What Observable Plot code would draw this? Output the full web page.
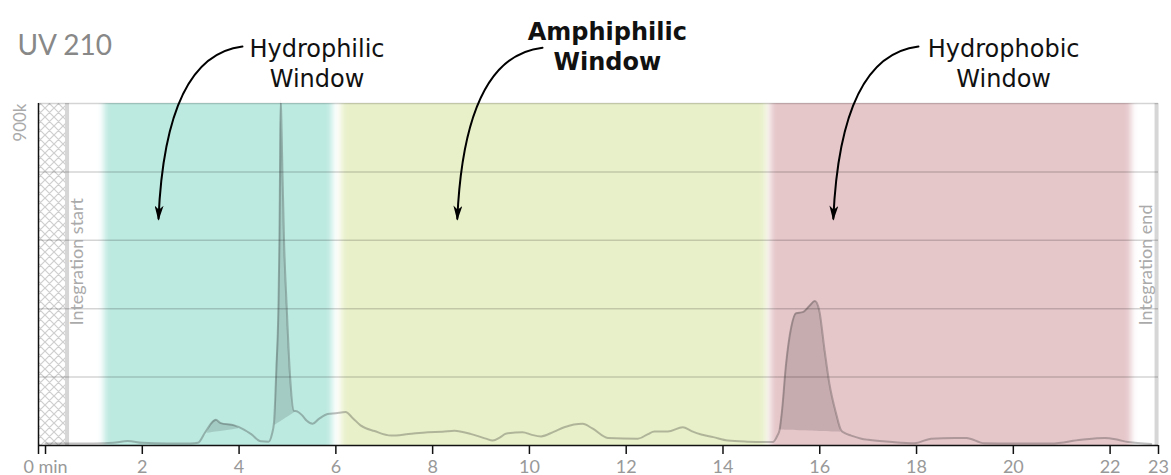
<!DOCTYPE html>
<html><head><meta charset="utf-8">
<script src="https://cdn.jsdelivr.net/npm/d3@7"></script>
<script src="https://cdn.jsdelivr.net/npm/@observablehq/plot@0.6"></script>
<style>body{margin:0;background:#fff;} svg{display:block;}</style>
</head><body><div id="chart"></div>
<script>
// ---- data ----
const times  = [0.0,0.5,1.0,1.4,1.7,2.0,2.5,3.0,3.15,3.3,3.45,3.52,3.62,3.9,4.1,4.25,4.45,4.61,4.68,4.72,4.77,4.813,4.834,4.846,4.86,4.875,4.896,4.929,4.985,5.05,5.13,5.2,5.3,5.4,5.52,5.65,5.83,6.0,6.2,6.35,6.51,6.8,7.14,7.5,7.9,8.2,8.45,8.8,9.1,9.24,9.4,9.51,9.86,10.05,10.24,10.5,10.72,11.1,11.3,11.62,12.24,12.45,12.58,12.86,13.17,13.35,13.55,13.8,14.1,14.5,14.93,15.03,15.12,15.17,15.22,15.3,15.41,15.51,15.65,15.79,15.9,15.99,16.1,16.2,16.34,16.44,16.51,16.65,16.86,17.0,17.5,17.96,18.3,18.79,19.03,19.4,20.0,20.78,21.4,21.89,22.16,22.37,22.85];
const signal = [5,5,5,7,12,7,5,5,7,35,62,68,59,53,42,30,11,10,30,58,200,363,540,720,910,850,720,540,363,190,92,90,80,65,57,70,83,85,88,72,53,38,26,30,35,36,39,30,18,13,22,31,35,28,24,36,48,57,45,20,18,30,37,37,48,38,29,22,13,10,9,9,25,41,92,210,311,348,351,368,380,355,250,162,83,40,33,26,18,15,9,6,18,20,20,6,5,5,15,20,15,9,4];

const tickValues = [0,2,4,6,8,10,12,14,16,18,20,22,23];
const tickLabels = ["0 min","2","4","6","8","10","12","14","16","18","20","22","23"];
const gridValues = [180,360,540,720,900];

const windowStart  = [1.22, 6.12, 14.99];
const windowEnd    = [5.93, 14.9, 22.44];
const windowColors = ["#bce9e0", "#e8f0c9", "#e5c6c9"];

const integrationStart = 0.445;
const integrationEnd = 22.96;

const peakStart = [3.34, 4.74, 15.17];
const peakStartBase = [32, 53, 41];
const peakEnd = [4.0, 5.17, 16.44];
const peakEndBase = [44, 88, 35];

const annotLabels = ["Hydrophilic\nWindow", "Amphiphilic\nWindow", "Hydrophobic\nWindow"];
const annotX = [5.61, 11.61, 19.80];
const annotY = [1007, 1054, 1007];
const annotBold = [false, true, false];

const arrowX1 = [4.07, 10.27, 18.04], arrowY1 = [1050, 1047, 1050];
const arrowCX = [2.48, 8.66, 16.43],  arrowCY = [1026, 1024, 1026];
const arrowX2 = [2.335, 8.51, 16.28], arrowY2 = [597, 597, 597];

const xMin = -0.145, xMax = 23;

// ---- derived tables ----
const trace = times.map((t, i) => ({t, v: signal[i]}));
const windows = windowStart.map((s, i) => ({x1: s, x2: windowEnd[i], fill: windowColors[i]}));
const areas = [];
peakStart.forEach((a, k) => {
  const b = peakEnd[k];
  const base = t => peakStartBase[k] + (peakEndBase[k] - peakStartBase[k]) * (t - a) / (b - a);
  areas.push({peak: k, t: a, base: base(a), v: peakStartBase[k]});
  trace.filter(d => d.t > a && d.t < b).forEach(d => areas.push({peak: k, t: d.t, base: base(d.t), v: Math.max(d.v, base(d.t))}));
  areas.push({peak: k, t: b, base: base(b), v: peakEndBase[k]});
});
const annots = annotLabels.map((l, i) => ({label: l, x: annotX[i], y: annotY[i], bold: annotBold[i]}));
const arrows = [];
arrowX1.forEach((x, i) => {
  arrows.push({id: i, x, y: arrowY1[i]});
  arrows.push({id: i, x: arrowCX[i], y: arrowCY[i]});
  arrows.push({id: i, x: arrowX2[i], y: arrowY2[i]});
});

function quadCurve(context) {
  let pts = [];
  return {
    areaStart() {}, areaEnd() {},
    lineStart() { pts = []; },
    point(x, y) { pts.push([+x, +y]); },
    lineEnd() {
      if (pts.length === 3) {
        context.moveTo(pts[0][0], pts[0][1]);
        context.quadraticCurveTo(pts[1][0], pts[1][1], pts[2][0], pts[2][1]);
      } else if (pts.length) {
        context.moveTo(pts[0][0], pts[0][1]);
        for (const p of pts.slice(1)) context.lineTo(p[0], p[1]);
      }
    }
  };
}

const chart = Plot.plot({
  width: 1171, height: 475,
  marginTop: 103, marginRight: 13, marginBottom: 30, marginLeft: 38,
  x: {domain: [xMin, xMax], axis: null},
  y: {domain: [0, 900], axis: null},
  color: {type: "identity"},
  style: {fontFamily: "Lato, sans-serif", background: "#fff", overflow: "visible"},
  marks: [
    Plot.rect(windows, {x1: "x1", x2: "x2", fill: "fill"}),
    Plot.rect([0], {x1: xMin, x2: integrationStart, fill: "url(#hatch)"}),
    Plot.ruleX([integrationStart, integrationEnd], {stroke: "#d6d6d6", strokeWidth: 4}),
    Plot.ruleY(gridValues, {stroke: "#000", strokeOpacity: 0.17, strokeWidth: 1.5}),
    Plot.areaY(areas, {x: "t", y1: "base", y2: "v", z: "peak", fill: "#000", fillOpacity: 0.13, curve: "monotone-x"}),
    Plot.line(trace, {x: "t", y: "v", stroke: "#303030", strokeOpacity: 0.3, strokeWidth: 2, curve: "monotone-x", clip: true}),
    Plot.ruleY([0], {stroke: "#111", strokeWidth: 1.5}),
    Plot.ruleX([xMin], {stroke: "#111", strokeWidth: 1.5, insetBottom: -9}),
    Plot.ruleX(tickValues, {stroke: "#111", strokeWidth: 1.5, insetTop: 342, insetBottom: -9}),
    Plot.text(tickValues, {x: d => d, text: (d, i) => tickLabels[i], frameAnchor: "bottom", lineAnchor: "top", dy: 15, fill: "#999", fontSize: 18}),
    Plot.text([900], {x: xMin, y: d => d, text: () => "900k", rotate: -90, textAnchor: "end", lineAnchor: "middle", dx: -18, fill: "#aaa", fontSize: 17}),
    Plot.text(["Integration start"], {x: integrationStart, y: 316, text: d => d, rotate: -90, textAnchor: "start", lineAnchor: "middle", dx: 10, fill: "#aaa", fontSize: 18}),
    Plot.text(["Integration end"], {x: integrationEnd, y: 316, text: d => d, rotate: -90, textAnchor: "start", lineAnchor: "middle", dx: -10, fill: "#aaa", fontSize: 18}),
    Plot.text(["UV 210"], {frameAnchor: "top-left", text: d => d, textAnchor: "start", lineAnchor: "middle", dx: -21, dy: -57, fill: "#888", fontSize: 28}),
    Plot.text(annots.filter(d => !d.bold), {x: "x", y: "y", text: "label", fontFamily: "DejaVu Sans", fontSize: 24, lineHeight: 30/24, fill: "#111", lineAnchor: "middle"}),
    Plot.text(annots.filter(d => d.bold), {x: "x", y: "y", text: "label", fontFamily: "DejaVu Sans", fontWeight: "bold", fontSize: 24, lineHeight: 30/24, fill: "#111", lineAnchor: "middle"}),
    Plot.line(arrows, {x: "x", y: "y", z: "id", curve: quadCurve, stroke: "#000", strokeWidth: 2.01})
  ]
});

const ns = "http://www.w3.org/2000/svg";
const defs = document.createElementNS(ns, "defs");
defs.innerHTML = `
  <pattern id="hatch" width="9" height="9" patternUnits="userSpaceOnUse">
    <rect width="9" height="9" fill="#fff"/>
    <path d="M0,0 L9,9 M9,0 L0,9 M-1,8 L1,10 M8,-1 L10,1 M-1,1 L1,-1 M8,10 L10,8" stroke="#cfcfcf" stroke-width="1.2"/>
  </pattern>
  <filter id="hblur" x="-10%" y="0" width="120%" height="100%">
    <feGaussianBlur stdDeviation="3 0"/>
  </filter>
  <marker id="head" viewBox="0 0 15 9" refX="13" refY="4.5" markerWidth="15" markerHeight="9" markerUnits="userSpaceOnUse" orient="auto">
    <path d="M0,0 L15,4.5 L0,9 L4,4.5 Z" fill="#000"/>
  </marker>`;
chart.insertBefore(defs, chart.firstChild);
const sel = d3.select(chart);
sel.selectAll("rect").filter(function() { return windowColors.includes(this.getAttribute("fill")); }).attr("filter", "url(#hblur)");
sel.selectAll('g[stroke-width="2.01"] path').attr("marker-end", "url(#head)");
document.getElementById("chart").appendChild(chart);
</script></body></html>
